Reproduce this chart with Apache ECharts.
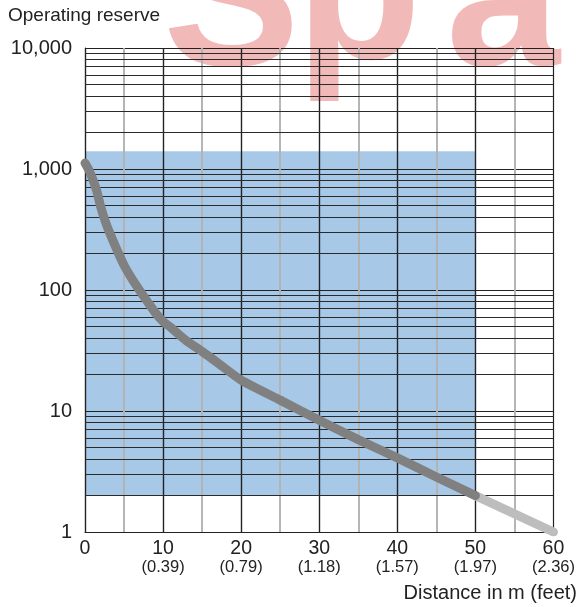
<!DOCTYPE html>
<html><head><meta charset="utf-8">
<script src="https://cdn.jsdelivr.net/npm/echarts@6/dist/echarts.min.js"></script>
<style>html,body{margin:0;padding:0;background:#fff}#c{width:578px;height:607px}</style>
</head><body><div id="c"></div>
<script>
const xTickLabels = {0:['0',''],10:['10','(0.39)'],20:['20','(0.79)'],30:['30','(1.18)'],40:['40','(1.57)'],50:['50','(1.97)'],60:['60','(2.36)']};
const yTickLabels = {1:'1',10:'10',100:'100',1000:'1,000',10000:'10,000'};
const curveMain = [[0,1120],[0.5,980],[1,820],[1.5,660],[2,490],[2.5,385],[3,315],[4,222],[5,160],[6,124],[7,99],[8,80],[9,65],[10,55],[11,49],[12,43],[13,38],[15,31],[17,25],[20,18],[25,12.3],[30,8.4],[35,5.8],[40,4.1],[45,2.85],[50,2]];
const curveTail = [[50,2],[60,1]];
const rangeArea = {xFrom:0, xTo:50, yFrom:2, yTo:1400};
const minorYValues = [];
[1,10,100,1000].forEach(d=>{for(let m=2;m<=9;m++) minorYValues.push(m*d);});
const majorXValues = [10,20,30,40,50];
const minorXValues = [5,15,25,35,45,55];
const watermarkLetters = ['S','p','a','r'];
const FONT = '"Liberation Sans", Arial, sans-serif';
const wmPos = [[163,-94],[296,-100],[446,-94],[572,-94]];

const chart = echarts.init(document.getElementById('c'));
chart.setOption({
  animation:false,
  grid:{left:85,right:23,top:48,bottom:75},
  graphic:[
    ...watermarkLetters.map((ch,i)=>({type:'text',left:wmPos[i][0],top:wmPos[i][1],z:-10,silent:true,style:{text:ch,font:'bold 205px '+FONT,fill:'#f2b9b9'}})),
    {type:'text',left:8,top:6,style:{text:'Operating reserve',font:'19px '+FONT,fill:'#222'}},
    {type:'text',right:1,top:583,style:{text:'Distance in m (feet)',font:'20px '+FONT,fill:'#222'}}
  ],
  xAxis:{type:'value',min:0,max:60,interval:10,z:2,
    axisLine:{show:true,onZero:false,lineStyle:{color:'#222',width:1.2}},
    axisTick:{show:false},
    splitLine:{show:true,lineStyle:{color:'#222',width:1.2}},
    minorTick:{show:false,splitNumber:2},
    minorSplitLine:{show:true,lineStyle:{color:'#b3b3b3',width:1.6}},
    axisLabel:{margin:8,formatter:v=>{const t=xTickLabels[v];return t[1]?'{a|'+t[0]+'}\n{b|'+t[1]+'}':'{a|'+t[0]+'}';},
      rich:{a:{fontSize:19.5,fontFamily:FONT,color:'#222',lineHeight:18},b:{fontSize:16.5,fontFamily:FONT,color:'#222',lineHeight:19}},verticalAlign:'top'}
  },
  yAxis:{type:'log',logBase:10,min:1,max:10000,z:2,
    axisLine:{show:true,lineStyle:{color:'#222',width:1.2}},
    axisTick:{show:false},
    splitLine:{show:true,lineStyle:{color:'#222',width:1.2}},
    axisLabel:{margin:13,fontSize:20,fontFamily:FONT,color:'#222',formatter:v=>yTickLabels[v]||''}
  },
  series:[
    {type:'line',data:[],z:0,silent:true,
      markArea:{silent:true,z:0,itemStyle:{color:'#a8c8e8'},data:[[{coord:[rangeArea.xFrom,rangeArea.yFrom]},{coord:[rangeArea.xTo,rangeArea.yTo]}]]}},
    {type:'line',data:[],z:3,silent:true,
      markLine:{silent:true,z:3,symbol:'none',label:{show:false},lineStyle:{color:'#2a2a2a',width:1.2,type:'solid'},
        data:[
          ...minorXValues.map(v=>({xAxis:v,lineStyle:{color:'#b3b3b3',width:1.6,type:'solid'}})),
          ...majorXValues.map(v=>({xAxis:v,lineStyle:{color:'#222',width:1.2,type:'solid'}})),
          ...minorYValues.map(v=>({yAxis:v}))
        ]}},
    {type:'line',data:curveTail,z:10,symbol:'none',lineStyle:{color:'#bdbdbd',width:9,cap:'round'}},
    {type:'line',data:curveMain,z:11,symbol:'none',smooth:0.2,lineStyle:{color:'#808080',width:9,cap:'round',join:'round'}}
  ]
});
</script></body></html>
